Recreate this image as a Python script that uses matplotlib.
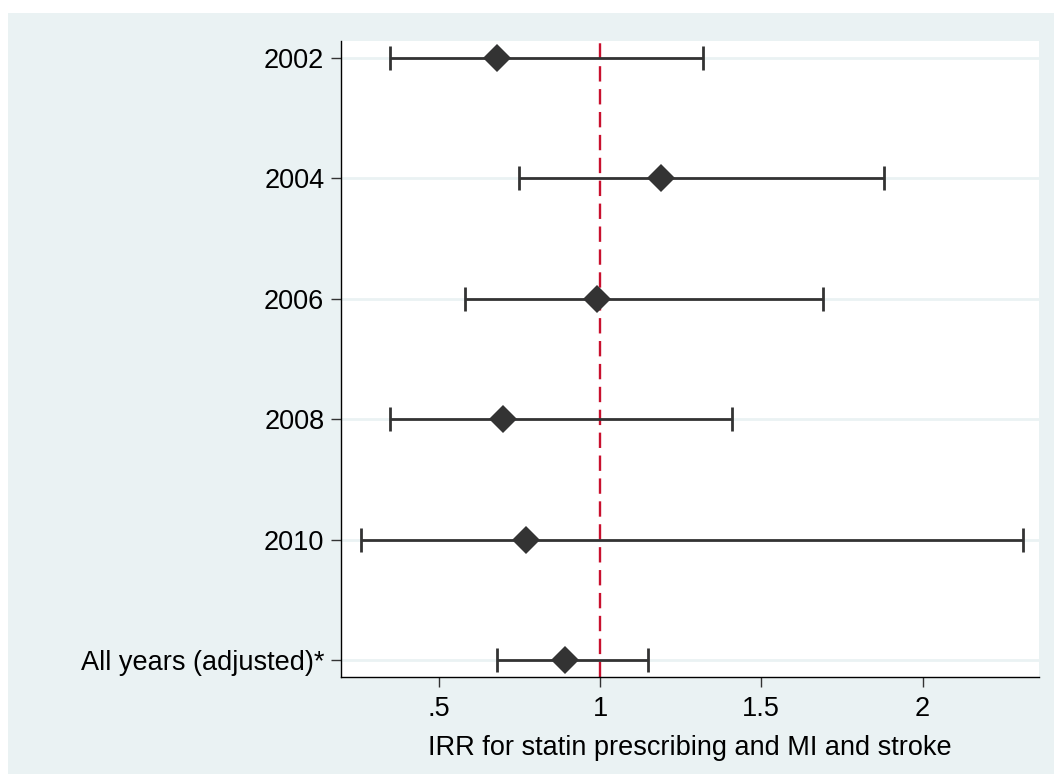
import numpy as np
import matplotlib.pyplot as plt
from matplotlib.patches import Rectangle

plt.rcParams['font.family'] = ['Liberation Sans', 'DejaVu Sans']

# IRR estimates with 95% CI, top to bottom
labels = ['2002', '2004', '2006', '2008', '2010', 'All years (adjusted)*']
irr = [0.68, 1.19, 0.99, 0.70, 0.77, 0.89]
ci_low = [0.35, 0.75, 0.58, 0.35, 0.26, 0.68]
ci_high = [1.32, 1.88, 1.69, 1.41, 2.31, 1.15]
xticks = [0.5, 1, 1.5, 2]
xtick_labels = ['.5', '1', '1.5', '2']

bg = '#EAF2F3'
dark = '#333333'

fig = plt.figure(figsize=(10.54, 7.74), dpi=100, facecolor='white')
fig.patches.append(Rectangle((8 / 1054, 0), 1, 1 - 13 / 774, transform=fig.transFigure,
                             facecolor=bg, edgecolor='none', zorder=-10))

ax = fig.add_axes([341 / 1054, 97 / 774, 698 / 1054, 636 / 774])
ax.set_facecolor('white')

y = np.arange(len(labels))
irr = np.array(irr)
err = [irr - np.array(ci_low), np.array(ci_high) - irr]

for yi in y:
    ax.axhline(yi, color=bg, lw=2, zorder=0)

ax.axvline(1, color='#C8102E', lw=1.7, linestyle=(0, (6.5, 3.2)), zorder=1)

ax.errorbar(irr, y, xerr=err, fmt='none', ecolor=dark, elinewidth=2,
            capsize=8.5, capthick=2, zorder=2)
ax.plot(irr, y, 'D', color=dark, markersize=14.5, markeredgewidth=0, zorder=3)

ax.set_xlim(0.197, 2.361)
ax.set_ylim(len(labels) - 1 + 0.14, -0.14)

ax.set_yticks(y)
ax.set_yticklabels(labels)
ax.set_xticks(xticks)
ax.set_xticklabels(xtick_labels)

ax.tick_params(axis='both', direction='out', length=7, width=1, color=dark,
               labelsize=19.5, labelcolor='black')
ax.tick_params(axis='x', pad=7)
ax.tick_params(axis='y', pad=5)

for side in ['top', 'right']:
    ax.spines[side].set_visible(False)
for side in ['left', 'bottom']:
    ax.spines[side].set_color('black')
    ax.spines[side].set_linewidth(1)

ax.set_xlabel('IRR for statin prescribing and MI and stroke', fontsize=19.5, labelpad=9)

fig.savefig('out.png', dpi=100, facecolor=fig.get_facecolor())
